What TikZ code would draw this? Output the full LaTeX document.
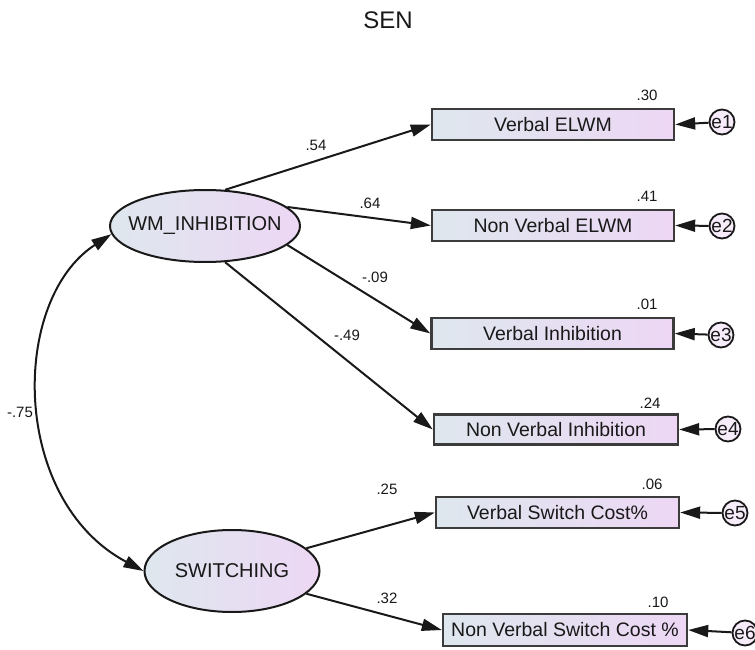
\documentclass[tikz,border=0pt]{standalone}
\usepackage{fontspec}
\setmainfont{Liberation Sans}
\usetikzlibrary{arrows.meta,shapes.geometric}
\definecolor{lf}{RGB}{222,231,238}
\definecolor{rf}{RGB}{237,215,244}
\definecolor{ink}{RGB}{25,25,25}
\begin{document}
\begin{tikzpicture}[x=1pt,y=-1pt,
  latent/.style={ellipse,draw=ink,line width=2pt,left color=lf,right color=rf,inner sep=0pt,
     font=\fontsize{20}{22}\selectfont,text=ink},
  observed/.style={rectangle,draw=ink!85,line width=2.4pt,left color=lf,right color=rf,inner sep=0pt,
     minimum width=242pt,minimum height=31pt,font=\fontsize{19.5}{21}\selectfont,text=ink},
  errc/.style={circle,draw=ink,line width=1.8pt,fill=rf!45!white,inner sep=0pt,minimum size=25pt,
     font=\fontsize{19}{21}\selectfont,text=ink},
  num/.style={font=\fontsize{15}{17}\selectfont,text=ink,inner sep=0pt},
  path/.style={line width=2pt,draw=ink,-{Triangle[length=20pt,width=12pt]}},
  biarrow/.style={line width=2pt,draw=ink,{Triangle[length=20pt,width=12pt]}-{Triangle[length=20pt,width=12pt]}}
]
\path[use as bounding box,fill=white] (0,0) rectangle (755,650);

\node[font=\fontsize{24}{26}\selectfont,text=ink] (title) at (388,20) {SEN};

\node[latent,minimum width=190pt,minimum height=72pt] (wm) at (205,226) {\makebox[0pt]{WM\_INHIBITION}};
\node[latent,minimum width=175pt,minimum height=82pt] (sw) at (232,571) {\makebox[0pt]{SWITCHING}};

\node[observed] (b1) at (553,124.5) {Verbal ELWM};
\node[observed] (b2) at (553,225.5) {Non Verbal ELWM};
\node[observed] (b3) at (552.5,333.5) {Verbal Inhibition};
\node[observed,minimum width=244pt,minimum height=30pt] (b4) at (556,429.5) {Non Verbal Inhibition};
\node[observed,minimum width=243pt] (b5) at (557.5,512.5) {Verbal Switch Cost\%};
\node[observed,minimum width=244pt,minimum height=32pt] (b6) at (565,630) {Non Verbal Switch Cost \%};

\node[errc] (e1) at (722,122) {\makebox[0pt]{e1}};
\node[errc] (e2) at (722,226) {\makebox[0pt]{e2}};
\node[errc] (e3) at (721,335) {\makebox[0pt]{e3}};
\node[errc] (e4) at (728,429) {\makebox[0pt]{e4}};
\node[errc] (e5) at (735,513) {\makebox[0pt]{e5}};
\node[errc] (e6) at (745,633) {\makebox[0pt]{e6}};

\node[num] (r1) at (647,95) {.30};
\node[num] (r2) at (647,196) {.41};
\node[num] (r3) at (647,304) {.01};
\node[num] (r4) at (650,403) {.24};
\node[num] (r5) at (652,484) {.06};
\node[num] (r6) at (658,602) {.10};

\draw[path] (wm.61) -- (b1.west);
\draw[path] (wm.13) -- (b2.west);
\draw[path] (wm.-13) -- (b3.west);
\draw[path] (wm.-61) -- (b4.west);
\draw[path] (sw.17.5) -- (b5.west);
\draw[path] (sw.-17.5) -- (b6.west);

\foreach \i in {1,...,6} {\draw[path] (e\i) -- (b\i.east);}

\draw[biarrow] (wm.185) .. controls (10,300) and (10,500) .. (sw.west);

\node[num] (l1) at (316,145) {.54};
\node[num] (l2) at (370,203) {.64};
\node[num] (l3) at (375,277) {-.09};
\node[num] (l4) at (347,335) {-.49};
\node[num] (l5) at (387,489) {.25};
\node[num] (l6) at (387,598) {.32};
\node[num] (l7) at (20,412) {-.75};
\end{tikzpicture}
\end{document}
